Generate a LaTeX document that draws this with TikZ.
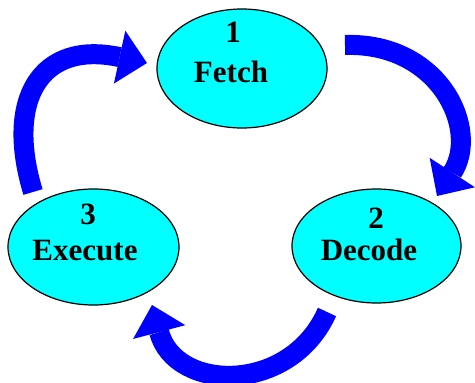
\documentclass[tikz,border=0pt]{standalone}
\usepackage{fontspec}
\setmainfont{Liberation Serif}
\usetikzlibrary{shapes.geometric,arrows.meta}
\definecolor{cellfill}{RGB}{0,255,255}
\definecolor{arrowblue}{RGB}{0,0,255}
\tikzset{
  stage/.style={ellipse, draw=black, line width=1.2pt, fill=cellfill, inner sep=0pt},
  lbl/.style={anchor=base, font=\fontsize{31}{31}\selectfont\bfseries, inner sep=0pt},
  cyclearrow/.style={draw=arrowblue, line width=20pt, line cap=butt,
    -{Triangle[width=54pt,length=28pt,line width=0pt]}}
}
\begin{document}
\begin{tikzpicture}[x=1pt,y=-1pt]
\useasboundingbox (0,0) rectangle (475,383);
% stages
\node[stage, minimum width=170pt, minimum height=119pt] (fetch) at (242,68.5) {};
\node[stage, minimum width=169pt, minimum height=114pt] (decode) at (376.5,246) {};
\node[stage, minimum width=171pt, minimum height=116pt] (execute) at (93.5,247) {};
% labels
\node[lbl] (fetchnum) at (233,42) {1};
\node[lbl] (fetchtxt) at (231,82) {Fetch};
\node[lbl] (decodenum) at (376,228) {2};
\node[lbl] (decodetxt) at (369,260) {Decode};
\node[lbl] (executenum) at (88,224) {3};
\node[lbl] (executetxt) at (85,260) {Execute};
% arrow end points
\coordinate (fdstart) at (345,45);
\coordinate (fdend) at (437,196);
\coordinate (destart) at (327,312);
\coordinate (deend) at (152,305);
\coordinate (efstart) at (33,192);
\coordinate (efend) at (147,63);
% arrows
\draw[cyclearrow] (fdstart) .. controls (440,42) and (480,130) .. (fdend);
\draw[cyclearrow] (destart) .. controls (290,395) and (175,392) .. (deend);
\draw[cyclearrow] (efstart) .. controls (5,100) and (40,40) .. (efend);
\end{tikzpicture}
\end{document}
